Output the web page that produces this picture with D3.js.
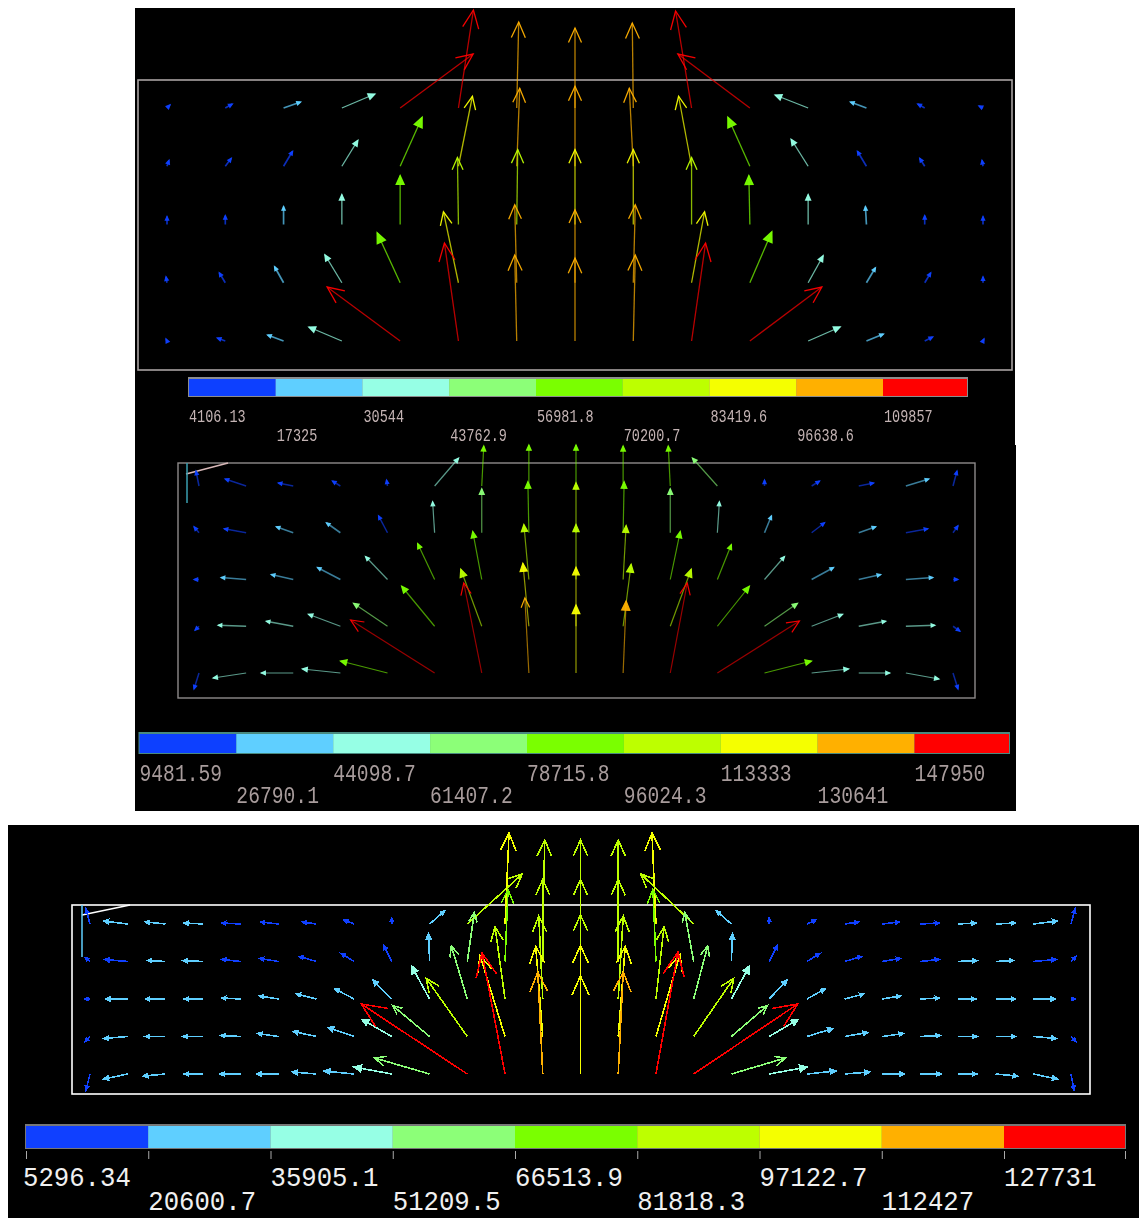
<!DOCTYPE html>
<html><head><meta charset="utf-8">
<style>html,body{margin:0;padding:0;background:#fff;overflow:hidden}svg{display:block}</style>
<script src="https://cdn.jsdelivr.net/npm/d3@7/dist/d3.min.js"></script></head>
<body><svg id="c" width="1139" height="1218"></svg>
<script>
const palette=["#1040ff","#5fcfff","#96ffe5","#8cff78","#7aff00","#bdff00","#f5ff00","#ffb000","#ff0000"];

// Panel 1 — vector x / y components by row (top to bottom), magnitude in thousands
const p1Dx=[
[3,7,17,33,73,15,2,0,-1,-16,-72,-33,-16,-7,-4],
[2,6,9,16,22,14,3,0,-4,-13,-22,-17,-9,-5,-1],
[0,0,0,0,0,-1,1,0,0,0,-1,0,-1,0,0],
[-1,-6,-9,-17,-23,-15,-2,0,2,13,22,15,9,6,0],
[-1,-8,-16,-33,-73,-14,-2,0,2,14,72,32,17,8,1]];
const p1Dy=[
[-3,-4,-6,-14,-54,-98,-86,-80,-85,-97,-54,-13,-6,-4,-2],
[-6,-8,-15,-26,-49,-70,-78,-80,-78,-70,-49,-27,-15,-8,-6],
[-8,-9,-18,-30,-49,-67,-75,-75,-75,-67,-49,-30,-18,-9,-8],
[-6,-10,-16,-28,-50,-71,-78,-73,-78,-71,-51,-27,-15,-10,-6],
[-2,-3,-6,-14,-54,-98,-86,-83,-86,-98,-54,-14,-7,-4,-2]];
const p1Mag=[
[11,11,24,37,116,116,103,103,103,116,116,37,24,11,11],
[11,11,11,37,64,90,103,103,103,90,64,37,11,11,11],
[11,11,24,37,64,77,77,90,90,77,64,37,24,11,11],
[11,11,24,37,64,90,103,103,103,90,64,37,24,11,11],
[11,11,24,37,116,116,103,103,103,116,116,37,24,11,11]];
const p1Ticks=["4106.13","17325","30544","43762.9","56981.8","70200.7","83419.6","96638.6","109857"];

// Panel 2
const p2Dx=[
[-3,-21,-15,-8,-1,24,2,0,0,0,-2,-25,0,8,15,23,4],
[-5,-22,-17,-14,-9,-2,0,-1,0,1,0,2,7,13,17,22,5],
[-5,-25,-22,-23,-22,-17,-9,-5,0,3,10,14,20,22,22,27,5],
[-4,-28,-27,-32,-34,-33,-21,-6,0,8,21,32,33,31,27,29,7],
[-5,-33,-32,-38,-47,-84,-18,-4,0,3,17,82,47,37,31,33,5]];
const p2Dy=[
[-15,-7,-3,-5,-6,-28,-40,-41,-41,-40,-40,-28,-6,-5,-3,-7,-15],
[-6,-4,-6,-10,-17,-31,-44,-51,-50,-51,-44,-31,-17,-10,-6,-4,-7],
[0,-2,-5,-12,-23,-36,-48,-55,-55,-54,-48,-35,-23,-12,-5,-2,0],
[4,-1,-5,-12,-23,-40,-57,-63,-59,-62,-57,-40,-23,-12,-5,-1,5],
[16,5,0,-4,-12,-53,-90,-75,-68,-72,-90,-52,-12,-4,0,6,16]];
const p2Mag=[
[18,18,18,18,18,53,87,87,87,87,87,70,18,18,18,35,18],
[18,18,35,35,18,53,70,87,105,87,70,53,35,18,35,18,18],
[18,35,35,35,53,87,87,105,105,105,87,87,53,35,35,35,18],
[18,53,53,53,70,87,105,122,122,105,105,87,70,53,53,53,18],
[18,53,53,53,87,157,157,139,122,139,157,157,87,53,53,53,18]];
const p2Ticks=["9481.59","26790.1","44098.7","61407.2","78715.8","96024.3","113333","130641","147950"];

// Panel 3
const p3Dx=[
[-4,-24,-20,-19,-19,-18,-14,-10,0,15,55,4,2,0,0,-4,-53,-15,0,9,14,17,19,18,20,24,4],
[-5,-23,-18,-20,-19,-19,-17,-13,-8,-1,7,3,0,0,0,-3,-9,1,8,13,17,18,19,19,18,23,5],
[-5,-22,-20,-19,-19,-19,-20,-19,-19,-18,-16,-10,-4,0,5,8,14,18,18,18,19,18,19,18,20,22,4],
[-5,-24,-20,-20,-20,-21,-23,-26,-30,-37,-41,-25,-7,0,7,24,40,36,29,26,23,21,20,19,20,23,5],
[-4,-24,-22,-19,-21,-22,-24,-30,-38,-55,-106,-23,-5,0,5,22,104,54,38,29,25,22,21,19,22,24,3]];
const p3Dy=[
[-15,-3,-2,-1,-1,-2,-2,-4,-6,-13,-50,-91,-84,-84,-84,-91,-50,-13,-6,-4,-2,-2,-1,-1,-1,-3,-15],
[-4,-2,-1,-1,-2,-3,-5,-8,-16,-28,-49,-72,-82,-82,-82,-72,-49,-28,-16,-8,-5,-3,-2,-1,-1,-2,-5],
[0,0,0,0,-1,-3,-5,-10,-19,-33,-53,-72,-83,-84,-83,-72,-53,-33,-19,-10,-5,-3,-1,0,0,0,0],
[5,2,0,0,-1,-3,-5,-9,-17,-31,-58,-81,-90,-91,-90,-82,-58,-31,-17,-8,-4,-3,-1,0,0,2,5],
[16,5,2,0,0,0,-2,-3,-7,-16,-70,-121,-102,-98,-102,-122,-70,-16,-7,-3,-2,0,0,0,2,5,16]];
const p3Mag=[
[13,28,28,28,13,13,13,13,13,28,89,105,89,89,89,105,89,28,13,13,13,13,13,28,28,28,13],
[13,13,28,28,13,13,13,13,13,28,59,74,89,89,89,74,59,28,13,13,13,13,13,28,28,13,13],
[13,28,28,28,28,28,28,28,28,44,59,89,89,89,89,89,59,44,28,28,28,28,28,28,28,28,13],
[13,28,28,28,28,28,28,28,44,59,89,105,105,105,105,105,89,59,44,28,28,28,28,28,28,28,13],
[13,28,28,28,28,28,28,28,44,59,135,135,120,105,120,135,135,59,44,28,28,28,28,28,28,28,13]];
const p3Ticks=["5296.34","20600.7","35905.1","51209.5","66513.9","81818.3","97122.7","112427","127731"];

const panels=[
 {bg:[135,8,880,437],box:[138,80,874,290],boxCol:"#a8a2a2",boxW:1.6,cols:[167,983],rows:[108,341],
  dx:p1Dx,dy:p1Dy,mag:p1Mag,ticks:p1Ticks,bar:[189,883,967,379,17],step:13218.9,
  base:[422,441],charW:8.1,font:19,txt:"#c4b4b4",shaftOp:.72,headOp:.95,sw:1.3,blur:.55,rim:"#8d8d8d",tickLen:0,triad:null,
  headK:.2,fillBelow:60,txtDx:1,firstDx:0},
 {bg:[135,445,881,366],box:[178,463,797,235],boxCol:"#8e8a8a",boxW:1.4,cols:[199,953],rows:[486,673],
  dx:p2Dx,dy:p2Dy,mag:p2Mag,ticks:p2Ticks,bar:[139.5,914.5,1009,734,19],step:17308.6,
  base:[781,803],charW:11.8,font:23,txt:"#a89c9c",shaftOp:.6,headOp:.95,sw:1.2,blur:.55,rim:"#4a8a80",tickLen:0,
  triad:[[186,474,228,463,"#d8b8b8"],[187,463,187,503,"#3a9fb0"]],headK:.14,fillBelow:75,txtDx:0,firstDx:0},
 {bg:[8,825,1131,393],box:[72,905,1018,189],boxCol:"#ffffff",boxW:1.6,cols:[90,1071],rows:[924,1074],
  dx:p3Dx,dy:p3Dy,mag:p3Mag,ticks:p3Ticks,bar:[26,1004,1125,1126,22],step:15304.4,
  base:[1186,1210],charW:15.4,font:27,txt:"#f0f0f0",shaftOp:1,headOp:1,sw:1.6,blur:0,rim:"#777777",tickLen:8,
  triad:[[82,915,130,905,"#ffffff"],[82,905,82,957,"#5fcfff"]],headK:.21,fillBelow:45,txtDx:0,firstDx:-3}
];

const svg=d3.select("#c");
const defs=svg.append("defs");
defs.append("filter").attr("id","soft").attr("x","-5%").attr("y","-5%").attr("width","110%").attr("height","110%")
  .append("feGaussianBlur").attr("stdDeviation",.55);

panels.forEach(p=>{
  svg.append("rect").attr("x",p.bg[0]).attr("y",p.bg[1]).attr("width",p.bg[2]).attr("height",p.bg[3]).attr("fill","#000");
  const g=svg.append("g");
  if(p.blur) g.attr("filter","url(#soft)");
  const crisp=p.blur?"auto":"crispEdges";

  g.append("rect").attr("x",p.box[0]).attr("y",p.box[1]).attr("width",p.box[2]).attr("height",p.box[3])
    .attr("fill","none").attr("stroke",p.boxCol).attr("stroke-width",p.boxW);

  if(p.triad) p.triad.forEach(t=>g.append("line").attr("x1",t[0]).attr("y1",t[1]).attr("x2",t[2]).attr("y2",t[3])
    .attr("stroke",t[4]).attr("stroke-width",1.5));

  const nC=p.dx[0].length,nR=p.dx.length;
  const xS=d3.scaleLinear().domain([0,nC-1]).range(p.cols);
  const yS=d3.scaleLinear().domain([0,nR-1]).range(p.rows);
  const lo=+p.ticks[0],hi=lo+p.step*9;
  const col=d3.scaleQuantize().domain([lo/1000,hi/1000]).range(palette);

  const arrows=[];
  p.dx.forEach((row,r)=>row.forEach((u,c)=>arrows.push({c,r,u,v:p.dy[r][c],m:p.mag[r][c],len:Math.hypot(u,p.dy[r][c])||1})));

  const sel=g.append("g").selectAll("g").data(arrows).join("g").attr("shape-rendering",crisp);
  sel.append("line")
    .attr("x1",d=>xS(d.c)).attr("y1",d=>yS(d.r))
    .attr("x2",d=>xS(d.c)+d.u).attr("y2",d=>yS(d.r)+d.v)
    .attr("stroke",d=>col(d.m)).attr("stroke-opacity",p.shaftOp)
    .attr("stroke-width",d=>d.len<30&&p.blur?p.sw*1.3:p.sw);
  sel.append("path")
    .attr("d",d=>{
      const hl=Math.max(4,d.len*p.headK),a=Math.atan2(d.v,d.u),tx=xS(d.c)+d.u,ty=yS(d.r)+d.v,th=.42;
      const bx=s=>tx-hl*Math.cos(a+s*th),by=s=>ty-hl*Math.sin(a+s*th);
      return `M${bx(1)},${by(1)}L${tx},${ty}L${bx(-1)},${by(-1)}`+(d.len<p.fillBelow?"Z":"");
    })
    .attr("fill",d=>d.len<p.fillBelow?col(d.m):"none").attr("fill-opacity",p.headOp)
    .attr("stroke",d=>col(d.m)).attr("stroke-opacity",p.headOp).attr("stroke-width",p.sw);

  // colour bar: first eight bands are even, the last one runs to the bar's end
  const thresholds=p.ticks.map(Number);
  const bScale=d3.scaleLinear().domain([thresholds[0],thresholds[8]]).range([p.bar[0],p.bar[1]]);
  const barEnd=bScale.invert(p.bar[2]);
  const leg=svg.append("g");
  if(p.blur) leg.attr("filter","url(#soft)");
  leg.append("rect").attr("x",p.bar[0]-1).attr("y",p.bar[3]-2).attr("width",p.bar[2]-p.bar[0]+2).attr("height",p.bar[4]+3).attr("fill",p.rim);
  leg.selectAll("rect.seg").data(thresholds).join("rect").attr("class","seg")
    .attr("x",d=>bScale(d)).attr("y",p.bar[3])
    .attr("width",(d,i)=>bScale(i<8?thresholds[i+1]:barEnd)-bScale(d)).attr("height",p.bar[4])
    .attr("fill",(d,i)=>palette[i]);

  if(p.tickLen){
    const ax=d3.axisBottom(bScale).tickValues([...thresholds,barEnd]).tickFormat("").tickSize(p.tickLen).tickSizeOuter(0);
    const ag=leg.append("g").attr("transform",`translate(0,${p.bar[3]+p.bar[4]+3})`).call(ax);
    ag.select(".domain").remove();
    ag.selectAll("line").attr("stroke","#aaa");
    ag.selectAll("text").remove();
  }
  leg.selectAll("text.lab").data(p.ticks).join("text").attr("class","lab")
    .attr("x",(d,i)=>bScale(thresholds[i])+(i?p.txtDx:p.firstDx))
    .attr("y",(d,i)=>p.base[i%2])
    .attr("font-family","'Liberation Mono',monospace").attr("font-size",p.font)
    .attr("fill",p.txt).attr("textLength",d=>d.length*p.charW).attr("lengthAdjust","spacingAndGlyphs")
    .text(d=>d);
});
</script></body></html>
